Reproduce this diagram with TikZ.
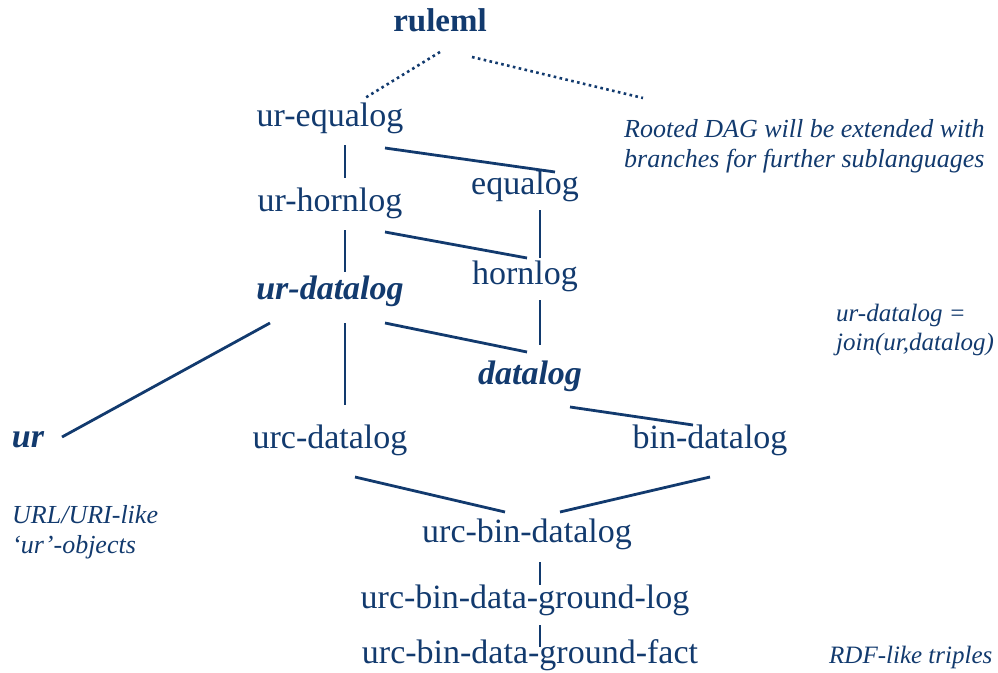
\documentclass[tikz,border=0pt]{standalone}
\usepackage{fontspec}
\setmainfont{Liberation Serif}
\usepackage{tikz}
\usetikzlibrary{positioning,calc}
\usepackage{xcolor}
\definecolor{navy}{HTML}{123A6E}
\newcommand{\bfit}[1]{{\bfseries\itshape #1}}

\tikzset{
  lang/.style={text=navy, inner sep=0pt, font=\fontsize{34}{40}\selectfont},
  note/.style={text=navy, inner sep=0pt, align=left, anchor=west,
               font=\fontsize{26}{30}\selectfont\itshape},
  link/.style={draw=navy, line width=2.8pt},
  hint/.style={draw=navy, line width=2.6pt, dash pattern=on 2.6pt off 3.4pt}
}

\begin{document}
\begin{tikzpicture}[x=1pt,y=-1pt]
  \clip (0,0) rectangle (998,672);

  % languages
  \node[lang, font=\fontsize{33}{40}\selectfont\bfseries] (ruleml) at (440,20) {ruleml};
  \node[lang] (urequalog) at (330,118) {ur-equalog};
  \node[lang] (equalog) at (525,186) {equalog};
  \node[lang] (urhornlog) at (330,203) {ur-hornlog};
  \node[lang] (hornlog) at (525,276) {hornlog};
  \node[lang] (urdatalog) at (330,291) {\bfit{ur-datalog}};
  \node[lang] (datalog) at (530,376) {\bfit{datalog}};
  \node[lang] (ur) at (28,440) {\bfit{ur}};
  \node[lang] (urcdatalog) at (330,440) {urc-datalog};
  \node[lang] (bindatalog) at (710,440) {bin-datalog};
  \node[lang] (urcbin) at (527,534) {urc-bin-datalog};
  \node[lang] (groundlog) at (525,600) {urc-bin-data-ground-log};
  \node[lang] (groundfact) at (530,655) {urc-bin-data-ground-fact};

  % remarks
  \node[note] (dagnote) at (624,146) {Rooted DAG will be extended with\\branches for further sublanguages};
  \node[note, font=\fontsize{25}{29}\selectfont\itshape] (joinnote) at (836,330) {ur-datalog =\\join(ur,datalog)};
  \node[note] (urnote) at (12,532) {URL/URI-like\\`ur'-objects};
  \node[note, font=\fontsize{25}{29}\selectfont\itshape] (rdfnote) at (829,657) {RDF-like triples};

  % root
  \draw[hint] ([shift={(0,32)}]ruleml.center) -- ([shift={(35,-20)}]urequalog.center);
  \draw[hint] ([shift={(32,37)}]ruleml.center) -- ([shift={(19,-48)}]dagnote.west);

  % edges
  \draw[link] ([shift={(15,27)}]urequalog.center) -- ([shift={(15,-25)}]urhornlog.center);
  \draw[link] ([shift={(15,27)}]urhornlog.center) -- ([shift={(15,-19)}]urdatalog.center);
  \draw[link] ([shift={(15,32)}]urdatalog.center) -- ([shift={(15,-35)}]urcdatalog.center);
  \draw[link] ([shift={(55,30)}]urequalog.center) -- ([shift={(30,-14)}]equalog.center);
  \draw[link] ([shift={(15,24)}]equalog.center) -- ([shift={(15,-18)}]hornlog.center);
  \draw[link] ([shift={(55,29)}]urhornlog.center) -- ([shift={(2,-18)}]hornlog.center);
  \draw[link] ([shift={(15,24)}]hornlog.center) -- ([shift={(10,-31)}]datalog.center);
  \draw[link] ([shift={(55,32)}]urdatalog.center) -- ([shift={(-3,-24)}]datalog.center);
  \draw[link] ([shift={(-60,32)}]urdatalog.center) -- ([shift={(34,-3)}]ur.center);
  \draw[link] ([shift={(40,31)}]datalog.center) -- ([shift={(-17,-15)}]bindatalog.center);
  \draw[link] ([shift={(25,37)}]urcdatalog.center) -- ([shift={(-22,-22)}]urcbin.center);
  \draw[link] ([shift={(0,37)}]bindatalog.center) -- ([shift={(33,-22)}]urcbin.center);
  \draw[link] ([shift={(13,28)}]urcbin.center) -- ([shift={(15,-15)}]groundlog.center);
  \draw[link] ([shift={(15,25)}]groundlog.center) -- ([shift={(10,-8)}]groundfact.center);
\end{tikzpicture}
\end{document}
